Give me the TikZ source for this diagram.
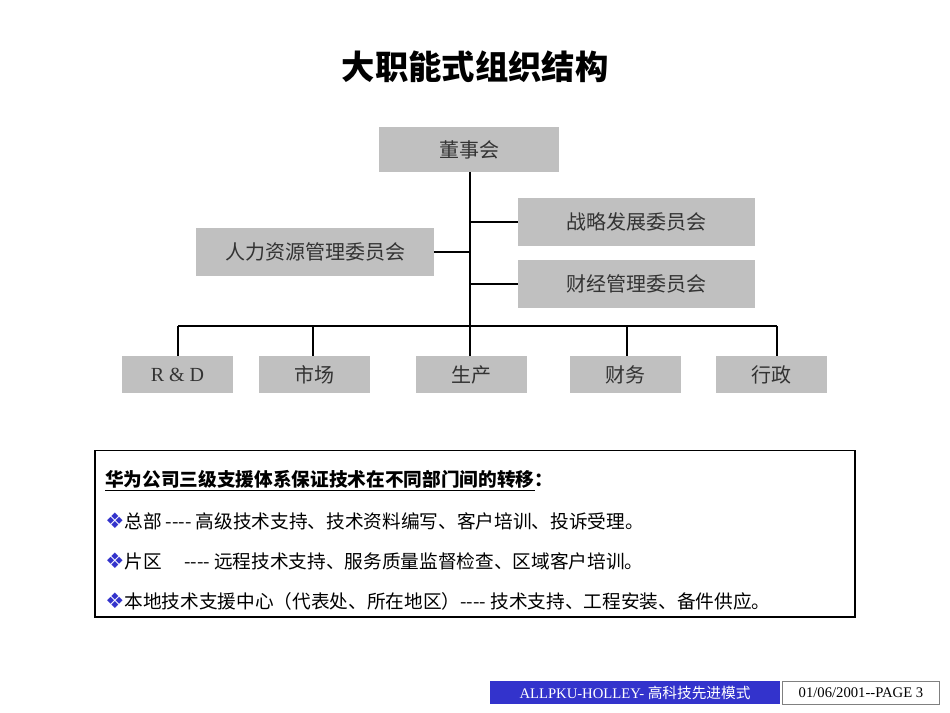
\documentclass[tikz,border=0pt]{standalone}
\usepackage{fontspec}
\setmainfont{Liberation Serif}
\newfontfamily\cjk{Noto Sans CJK SC}
\newfontfamily\djvfont{DejaVu Sans}
\definecolor{boxgray}{HTML}{C0C0C0}
\definecolor{footblue}{HTML}{3333CC}
\newcommand{\bul}{{\djvfont\fontsize{16}{16}\selectfont\color{footblue}❖}}
\begin{document}
\begin{tikzpicture}[x=0.75pt,y=-0.75pt,
  gbox/.style={fill=boxgray,draw=none,inner sep=0,font=\cjk\fontsize{15}{18}\selectfont,text=black!80},
  conn/.style={line width=1.2pt,black}]
\useasboundingbox (0,0) rectangle (950,713);
\node[font=\cjk\bfseries\fontsize{25}{28}\selectfont] (title) at (475,67) {大职能式组织结构};
\node[gbox,minimum width=135pt,minimum height=34pt] (board) at (469,149.5) {董事会};
\node[gbox,minimum width=178pt,minimum height=36pt] (zl) at (636.5,222) {战略发展委员会};
\node[gbox,minimum width=178pt,minimum height=36pt] (rl) at (315,252) {人力资源管理委员会};
\node[gbox,minimum width=178pt,minimum height=36pt] (cj) at (636.5,284) {财经管理委员会};
\foreach \n/\x/\t in {rd/177.5/{\rmfamily R \& D},sc/314.5/市场,sp/471.5/生产,cw/625.5/财务,xz/771.5/行政}
  \node[gbox,minimum width=83pt,minimum height=28pt] (\n) at (\x,374.5) {\t};
\coordinate (t) at (470,172);
\coordinate (b) at (470,326);
\draw[conn] (t) -- (b);
\draw[conn] (470,222) -- (zl.west);
\draw[conn] (470,284) -- (cj.west);
\draw[conn] (rl.east) -- (470,252);
\draw[conn] (178,326) -- (777,326);
\foreach \n/\x in {rd/178,sc/313,sp/470,cw/627,xz/777}
  \draw[conn] (\x,326) -- (\x,356);
\node[draw,line width=1pt,minimum width=570pt,minimum height=125pt,inner sep=0] (tb) at (475,533.5) {};
\begin{scope}[every node/.style={anchor=west,inner sep=0,font=\cjk\fontsize{14}{16}\selectfont}]
\node (l0) at (105,481) {\bfseries\underline{华为公司三级支援体系保证技术在不同部门间的转移}：};
\node (l1) at (105,521) {\bul 总部 {-}{-}{-}{-} 高级技术支持、技术资料编写、客户培训、投诉受理。};
\node (l2) at (105,561) {\bul 片区\hspace{1.2em}{-}{-}{-}{-} 远程技术支持、服务质量监督检查、区域客户培训。};
\node (l3) at (105,601) {\bul 本地技术支援中心（代表处、所在地区）{-}{-}{-}{-} 技术支持、工程安装、备件供应。};
\end{scope}
\node[fill=footblue,minimum width=217.5pt,minimum height=17pt,inner sep=0,text=white,font=\fontsize{11}{13}\selectfont] (f1) at (635,692.5) {ALLPKU-HOLLEY- {\cjk 高科技先进模式}};
\node[draw=gray,fill=white,minimum width=118pt,minimum height=17pt,inner sep=0,font=\fontsize{11}{13}\selectfont] (f2) at (861,692.5) {01/06/2001-{}-PAGE 3};
\end{tikzpicture}
\end{document}
